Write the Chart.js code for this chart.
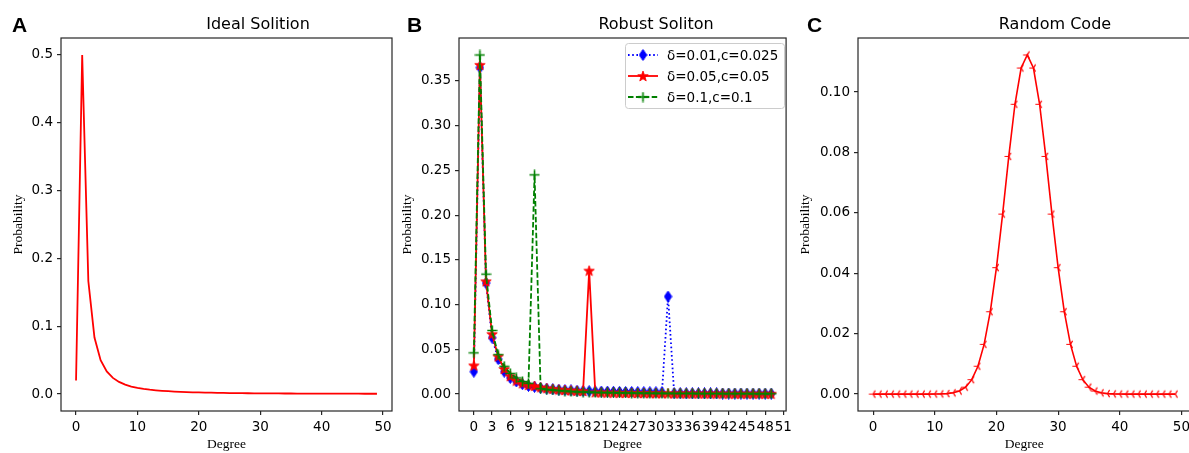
<!DOCTYPE html>
<html><head><meta charset="utf-8">
<script src="https://cdn.jsdelivr.net/npm/chart.js@4/dist/chart.umd.min.js"></script>
<style>
html,body{margin:0;padding:0;background:#fff;overflow:hidden;width:1189px;height:453px;position:relative}
.pc{position:absolute;top:0;height:453px}
.pc canvas{display:block}
.t{position:absolute;top:16px;font-family:'DejaVu Sans';font-size:16px;line-height:16px;white-space:nowrap;transform:translateX(-50%);color:#000}
.l{position:absolute;top:14px;font-family:'Liberation Sans',Arial,sans-serif;font-weight:bold;font-size:21px;line-height:21px;color:#000}
</style></head><body>
<div class="pc" style="left:0;width:398px"><canvas id="ca" width="398" height="453" style="width:398px;height:453px"></canvas></div>
<div class="pc" style="left:398px;width:398px"><canvas id="cb" width="398" height="453" style="width:398px;height:453px"></canvas></div>
<div class="pc" style="left:796px;width:400px"><canvas id="cc" width="400" height="453" style="width:400px;height:453px"></canvas></div>
<div class="l" style="left:12px">A</div>
<div class="l" style="left:407px">B</div>
<div class="l" style="left:807px">C</div>
<div class="t" style="left:258px">Ideal Solition</div>
<div class="t" style="left:656px">Robust Soliton</div>
<div class="t" style="left:1055px">Random Code</div>
<script>
// ---------- data ----------
const idealSoliton = [0.02, 0.5, 0.1667, 0.0833, 0.05, 0.0333, 0.0238, 0.0179, 0.0139, 0.0111,
  0.0091, 0.0076, 0.0064, 0.0055, 0.0048, 0.0042, 0.0037, 0.0033, 0.0029, 0.0026,
  0.0024, 0.0022, 0.002, 0.0018, 0.0017, 0.0015, 0.0014, 0.0013, 0.0012, 0.0011,
  0.0011, 0.001, 0.0009, 0.0009, 0.0008, 0.0008, 0.0007, 0.0007, 0.0007, 0.0006,
  0.0006, 0.0006, 0.0006, 0.0005, 0.0005, 0.0005, 0.0005, 0.0004, 0.0004, 0.0004];

const robustBlue = [0.025, 0.365, 0.124, 0.063, 0.039, 0.025, 0.018, 0.014, 0.011, 0.009,
  0.008, 0.0068, 0.006, 0.0053, 0.0048, 0.0044, 0.004, 0.0037, 0.0034, 0.0032,
  0.003, 0.0028, 0.0027, 0.0025, 0.0024, 0.0023, 0.0022, 0.0021, 0.002, 0.0019,
  0.0019, 0.0018, 0.109, 0.0008, 0.0008, 0.0007, 0.0007, 0.0007, 0.0006, 0.0006,
  0.0006, 0.0005, 0.0005, 0.0005, 0.0005, 0.0004, 0.0004, 0.0004, 0.0004, 0.0004];

const robustRed = [0.032, 0.368, 0.126, 0.067, 0.042, 0.028, 0.020, 0.015, 0.012, 0.010,
  0.009, 0.0075, 0.0065, 0.0057, 0.005, 0.0045, 0.004, 0.0036, 0.0033, 0.138,
  0.0019, 0.0017, 0.0016, 0.0015, 0.0013, 0.0012, 0.0012, 0.0011, 0.001, 0.0009,
  0.0009, 0.0008, 0.0008, 0.0007, 0.0007, 0.0006, 0.0006, 0.0006, 0.0006, 0.0005,
  0.0005, 0.0005, 0.0004, 0.0004, 0.0004, 0.0004, 0.0004, 0.0004, 0.0003, 0.0003];

const robustGreen = [0.046, 0.379, 0.134, 0.071, 0.044, 0.031, 0.023, 0.018, 0.014, 0.012,
  0.245, 0.006, 0.005, 0.0045, 0.0038, 0.0033, 0.0028, 0.0025, 0.0022, 0.002,
  0.0018, 0.0016, 0.0015, 0.0014, 0.0013, 0.0012, 0.0011, 0.001, 0.0009, 0.0009,
  0.0008, 0.0008, 0.0007, 0.0007, 0.0006, 0.0006, 0.0006, 0.0005, 0.0005, 0.0005,
  0.0005, 0.0004, 0.0004, 0.0004, 0.0004, 0.0004, 0.0003, 0.0003, 0.0003, 0.0003];

const randomCode = [0, 0, 0, 0, 0, 0, 0, 0, 0, 0,
  0.00002, 0.00006, 0.00016, 0.00042, 0.00102, 0.00229, 0.00478, 0.00922, 0.01647, 0.02727,
  0.04186, 0.0596, 0.07869, 0.09596, 0.10796, 0.11228, 0.10796, 0.09596, 0.07869, 0.0596,
  0.04186, 0.02727, 0.01647, 0.00922, 0.00478, 0.00229, 0.00102, 0.00042, 0.00016, 0.00006,
  0.00002, 0, 0, 0, 0, 0, 0, 0, 0, 0];

const seriesLabelsB = ['δ=0.01,c=0.025', 'δ=0.05,c=0.05', 'δ=0.1,c=0.1'];

const xTicksA = [0, 10, 20, 30, 40, 50];
const yTicksA = [0, 0.1, 0.2, 0.3, 0.4, 0.5];
const xTicksB = [0, 3, 6, 9, 12, 15, 18, 21, 24, 27, 30, 33, 36, 39, 42, 45, 48, 51];
const yTicksB = [0, 0.05, 0.10, 0.15, 0.20, 0.25, 0.30, 0.35];
const xTicksC = [0, 10, 20, 30, 40, 50];
const yTicksC = [0, 0.02, 0.04, 0.06, 0.08, 0.10];

// ---------- helpers ----------
const toXY = arr => arr.map((v, i) => ({x: i, y: v}));

function mk(w, h, draw) {
  const c = document.createElement('canvas');
  c.width = w; c.height = h;
  draw(c.getContext('2d'), w, h);
  return c;
}
const diamondImg = mk(9, 12, (g, w, h) => {
  g.fillStyle = '#0000ff'; g.strokeStyle = '#0000ff'; g.lineWidth = 1;
  g.beginPath(); g.moveTo(w/2, 0.5); g.lineTo(w - 0.8, h/2); g.lineTo(w/2, h - 0.5); g.lineTo(0.8, h/2); g.closePath();
  g.fill(); g.stroke();
});
const starImg = mk(12, 12, (g, w, h) => {
  g.fillStyle = '#ff0000'; g.strokeStyle = '#ff0000'; g.lineWidth = 0.8;
  const cx = w/2, cy = h/2 + 0.5, R = 5.5, r = 2.3;
  g.beginPath();
  for (let k = 0; k < 10; k++) {
    const ang = -Math.PI/2 + k * Math.PI/5, rr = k % 2 ? r : R;
    const px = cx + rr * Math.cos(ang), py = cy + rr * Math.sin(ang);
    k ? g.lineTo(px, py) : g.moveTo(px, py);
  }
  g.closePath(); g.fill(); g.stroke();
});
const plusImg = mk(11, 11, (g, w, h) => {
  g.strokeStyle = '#008000'; g.lineWidth = 1.6;
  g.beginPath(); g.moveTo(w/2, 0.5); g.lineTo(w/2, h - 0.5); g.moveTo(0.5, h/2); g.lineTo(w - 0.5, h/2); g.stroke();
});
const triImg = mk(11, 11, (g, w, h) => {
  g.strokeStyle = '#ff0000'; g.lineWidth = 1.2;
  const cx = w/2, cy = h/2, r = 4.2;
  g.beginPath();
  g.moveTo(cx, cy); g.lineTo(cx - r, cy);
  g.moveTo(cx, cy); g.lineTo(cx + r*0.5, cy - r*0.866);
  g.moveTo(cx, cy); g.lineTo(cx + r*0.5, cy + r*0.866);
  g.stroke();
});

Chart.defaults.font.family = "'DejaVu Sans'";
Chart.defaults.color = '#000';

const framePlugin = {
  id: 'frame',
  afterDatasetsDraw(chart) {
    const {ctx, chartArea: a} = chart;
    ctx.save();
    ctx.strokeStyle = '#262626'; ctx.lineWidth = 1.2;
    ctx.strokeRect(a.left, a.top, a.right - a.left, a.bottom - a.top);
    ctx.restore();
  }
};

const legendB = {
  id: 'legendB',
  afterDraw(chart) {
    const ctx = chart.ctx;
    const x0 = 227.5, y0 = 43.5, w = 159, h = 65, rad = 3;
    ctx.save();
    ctx.beginPath();
    ctx.moveTo(x0 + rad, y0); ctx.lineTo(x0 + w - rad, y0); ctx.arcTo(x0 + w, y0, x0 + w, y0 + rad, rad);
    ctx.lineTo(x0 + w, y0 + h - rad); ctx.arcTo(x0 + w, y0 + h, x0 + w - rad, y0 + h, rad);
    ctx.lineTo(x0 + rad, y0 + h); ctx.arcTo(x0, y0 + h, x0, y0 + h - rad, rad);
    ctx.lineTo(x0, y0 + rad); ctx.arcTo(x0, y0, x0 + rad, y0, rad); ctx.closePath();
    ctx.fillStyle = 'rgba(255,255,255,0.85)'; ctx.fill();
    ctx.strokeStyle = '#cccccc'; ctx.lineWidth = 1; ctx.stroke();
    const ds = chart.data.datasets;
    const order = [2, 1, 0];
    order.forEach((di, i) => {
      const d = ds[di];
      const y = 55 + i * 21;
      ctx.beginPath();
      ctx.setLineDash(d.borderDash || []);
      ctx.strokeStyle = d.borderColor; ctx.lineWidth = d.borderWidth;
      ctx.moveTo(230, y); ctx.lineTo(260, y); ctx.stroke();
      ctx.setLineDash([]);
      const img = d.pointStyle;
      ctx.drawImage(img, 245 - img.width/2, y - img.height/2);
      ctx.fillStyle = '#000';
      ctx.font = "13.5px 'DejaVu Sans'";
      ctx.textBaseline = 'middle'; ctx.textAlign = 'left';
      ctx.fillText(d.label, 269, y + 1);
    });
    ctx.restore();
  }
};

function scales(opt) {
  const tickFont = {family: "'DejaVu Sans'", size: 13.5};
  const titleFont = {family: "'Liberation Serif'", size: 13.5};
  return {
    x: {
      type: 'linear', min: -2.45, max: 51.45,
      afterBuildTicks: s => { s.ticks = opt.xTicks.map(v => ({value: v})); },
      afterFit: s => { s.height = 42; },
      ticks: {font: tickFont, color: '#000', padding: 4, autoSkip: false, maxRotation: 0, minRotation: 0,
              callback: v => String(v)},
      grid: {drawOnChartArea: false, drawTicks: true, tickLength: 4, color: '#262626', lineWidth: 1.2},
      border: {display: false},
      title: {display: true, text: 'Degree', font: titleFont, color: '#000', padding: {top: 0, bottom: 0}}
    },
    y: {
      type: 'linear', min: opt.yMin, max: opt.yMax,
      afterBuildTicks: s => { s.ticks = opt.yTicks.map(v => ({value: v})); },
      afterFit: s => { s.width = opt.yWidth; },
      ticks: {font: tickFont, color: '#000', padding: 4, callback: v => v.toFixed(opt.yDec)},
      grid: {drawOnChartArea: false, drawTicks: true, tickLength: 4, color: '#262626', lineWidth: 1.2},
      border: {display: false},
      title: {display: true, text: 'Probability', font: titleFont, color: '#000', padding: {top: opt.yTitlePad, bottom: 0}}
    }
  };
}

const common = {
  responsive: false, animation: false, events: [],
  plugins: {legend: {display: false}, tooltip: {enabled: false}}
};

new Chart(document.getElementById('ca'), {
  type: 'line',
  data: {datasets: [{
    data: toXY(idealSoliton), borderColor: '#ff0000', borderWidth: 1.8, pointRadius: 0, fill: false, tension: 0
  }]},
  options: Object.assign({}, common, {
    layout: {padding: {top: 38, right: 6, left: 0, bottom: 0}},
    scales: scales({xTicks: xTicksA, yTicks: yTicksA, yMin: -0.025, yMax: 0.525, yDec: 1, yWidth: 61, yTitlePad: 10})
  }),
  plugins: [framePlugin]
});

new Chart(document.getElementById('cb'), {
  type: 'line',
  data: {datasets: [
    {label: seriesLabelsB[2], data: toXY(robustGreen), borderColor: '#008000', borderWidth: 1.8, borderDash: [5.5, 2.4],
     pointStyle: plusImg, pointRadius: 4, order: 1, fill: false},
    {label: seriesLabelsB[1], data: toXY(robustRed), borderColor: '#ff0000', borderWidth: 1.8,
     pointStyle: starImg, pointRadius: 4, order: 2, fill: false},
    {label: seriesLabelsB[0], data: toXY(robustBlue), borderColor: '#0000ff', borderWidth: 1.8, borderDash: [1.6, 2.6],
     pointStyle: diamondImg, pointRadius: 4, order: 3, fill: false}
  ]},
  options: Object.assign({}, common, {
    layout: {padding: {top: 38, right: 5, left: 0, bottom: 0}},
    scales: scales({xTicks: xTicksB, yTicks: yTicksB, yMin: -0.019, yMax: 0.398, yDec: 2, yWidth: 61, yTitlePad: 1})
  }),
  plugins: [framePlugin, legendB]
});

new Chart(document.getElementById('cc'), {
  type: 'line',
  data: {datasets: [{
    data: toXY(randomCode), borderColor: '#ff0000', borderWidth: 1.6, pointStyle: triImg, pointRadius: 4, fill: false, tension: 0
  }]},
  options: Object.assign({}, common, {
    layout: {padding: {top: 38, right: 5, left: 0, bottom: 0}},
    scales: scales({xTicks: xTicksC, yTicks: yTicksC, yMin: -0.0056, yMax: 0.1179, yDec: 2, yWidth: 62, yTitlePad: 1})
  }),
  plugins: [framePlugin]
});
</script>
</body></html>
